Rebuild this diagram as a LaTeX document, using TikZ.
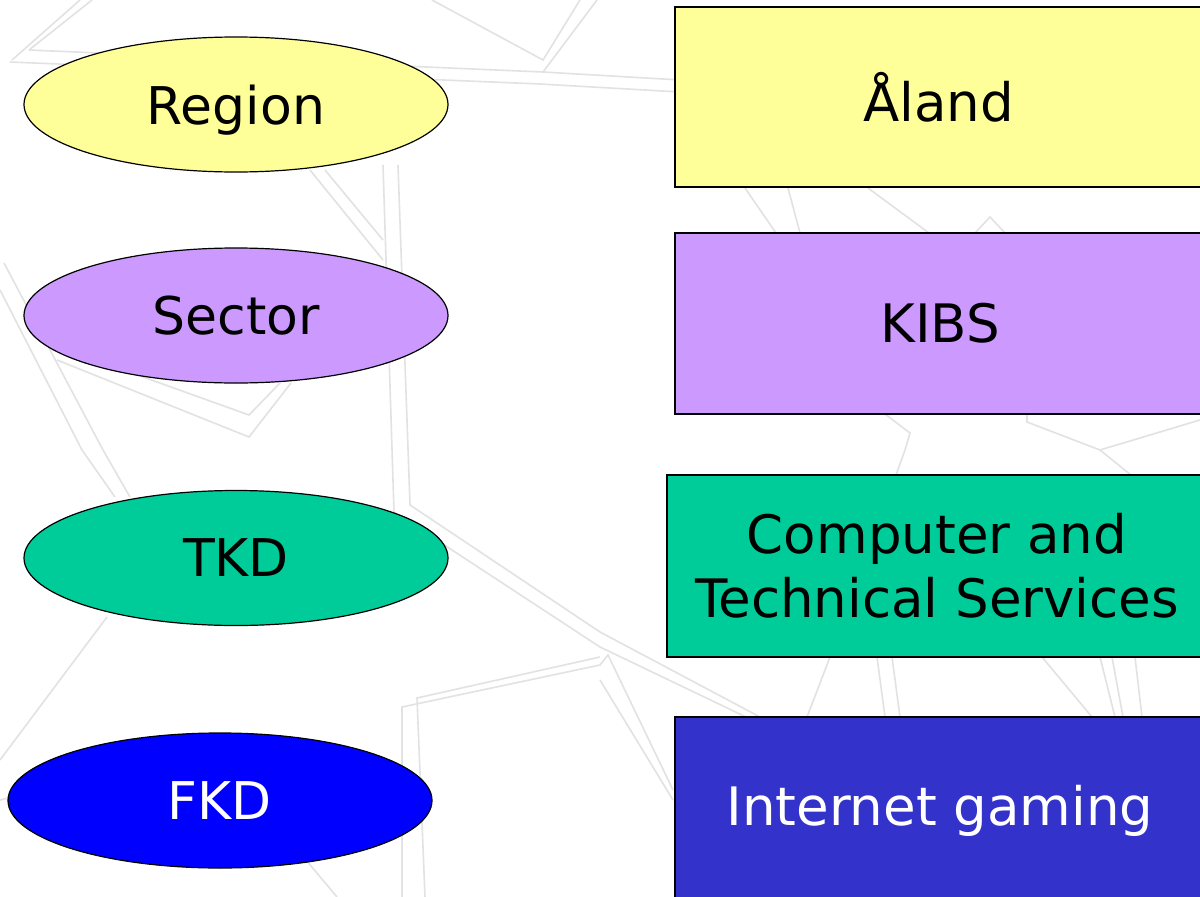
\documentclass[tikz,border=0pt]{standalone}
\usepackage{fontspec}
\setmainfont{DejaVu Sans}
\usetikzlibrary{shapes.geometric}
\definecolor{cyellow}{HTML}{FFFF99}
\definecolor{cpurple}{HTML}{CC99FF}
\definecolor{cgreen}{HTML}{00CC99}
\definecolor{cblue}{HTML}{0000FF}
\definecolor{cindigo}{HTML}{3333CC}
\definecolor{bgline}{HTML}{E2E2E2}
\tikzset{
  oval/.style={ellipse, draw=black, line width=1.2pt, minimum width=424pt, minimum height=135pt, inner sep=0pt, text depth=0pt, font=\fontsize{52}{62}\selectfont},
  box/.style={rectangle, draw=black, line width=1.6pt, inner sep=0pt, align=center, font=\fontsize{53}{64}\selectfont},
  bg/.style={draw=bgline, line width=1.6pt}
}
\begin{document}
\begin{tikzpicture}[x=1pt,y=-1pt]
\useasboundingbox (0,0) rectangle (1200,897);
\clip (0,0) rectangle (1200,897);
\fill[white] (0,0) rectangle (1200,897);
% background decorative lines
\draw[bg] (29,50) -- (92,0);
\draw[bg] (12,60) -- (80,0);
\draw[bg] (29,50) -- (543,72) -- (597,0);
\draw[bg] (432,0) -- (543,60) -- (580,0);
\draw[bg] (10,62) -- (540,84) -- (680,92);
\draw[bg] (543,72) -- (680,80);
\draw[bg] (383,165) -- (394,512) -- (600,647) -- (746,717);
\draw[bg] (398,165) -- (410,505) -- (600,632) -- (760,717);
\draw[bg] (310,170) -- (383,260);
\draw[bg] (325,170) -- (383,240);
\draw[bg] (4,263) -- (103,450) -- (130,497);
\draw[bg] (0,290) -- (82,450) -- (115,497);
\draw[bg] (57,360) -- (249,437) -- (291,383);
\draw[bg] (40,340) -- (249,415) -- (280,383);
\draw[bg] (0,760) -- (107,617);
\draw[bg] (0,800) -- (20,795);
\draw[bg] (402,897) -- (402,707) -- (600,665) -- (608,655) -- (673,790);
\draw[bg] (425,897) -- (417,698) -- (600,657);
\draw[bg] (600,680) -- (673,800);
\draw[bg] (306,860) -- (337,897);
\draw[bg] (745,188) -- (776,233);
\draw[bg] (788,188) -- (800,233);
\draw[bg] (868,188) -- (929,233);
\draw[bg] (975,233) -- (990,217) -- (1005,233);
\draw[bg] (885,414) -- (910,433) -- (905,450) -- (896,475);
\draw[bg] (1027,414) -- (1027,422) -- (1100,450) -- (1131,475);
\draw[bg] (830,657) -- (807,717);
\draw[bg] (877,657) -- (885,717);
\draw[bg] (892,657) -- (900,717);
\draw[bg] (1042,657) -- (1092,717);
\draw[bg] (1100,657) -- (1115,717);
\draw[bg] (1112,657) -- (1123,717);
\draw[bg] (1135,657) -- (1142,717);
\draw[bg] (1100,450) -- (1200,420);
% ellipses
\node[oval, fill=cyellow] (region) at (236,104.5) {Region};
\node[oval, fill=cpurple] (sector) at (236,315.5) {Sector};
\node[oval, fill=cgreen] (tkd) at (236,558) {TKD};
\node[oval, fill=cblue, text=white] (fkd) at (220,800.5) {FKD};
% boxes
\node[box, fill=cyellow, minimum width=527pt, minimum height=180pt] (aland) at (938.5,97) {Åland};
\node[box, fill=cpurple, minimum width=530pt, minimum height=181pt] (kibs) at (940,323.5) {KIBS};
\node[box, fill=cgreen, minimum width=540pt, minimum height=182pt] (cts) at (937,566) {Computer and\\Technical Services};
\node[box, fill=cindigo, text=white, minimum width=530pt, minimum height=188pt] (gaming) at (940,811) {Internet gaming};
\end{tikzpicture}
\end{document}
